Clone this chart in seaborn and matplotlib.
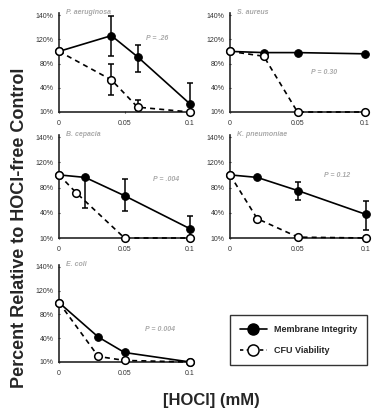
import numpy as np
import matplotlib
matplotlib.use("Agg")
import matplotlib.pyplot as plt
from matplotlib.lines import Line2D
import seaborn as sns

# species panels
species = ["P. aeruginosa", "S. aureus", "B. cepacia", "K. pneumoniae", "E. coli"]
p_labels = ["P = .26", "P = 0.30", "P = .004", "P = 0.12", "P = 0.004"]

# HOCl concentration (mM) per panel
pa_x = [0, 0.04, 0.06, 0.1]
sa_x = [0, 0.025, 0.05, 0.1]
bc_x_mem = [0, 0.02, 0.05, 0.1]
bc_x_cfu = [0, 0.013, 0.05, 0.1]
kp_x = [0, 0.02, 0.05, 0.1]
ec_x = [0, 0.03, 0.05, 0.1]

# membrane integrity (% of control) with error bar limits
pa_mem = [100, 123, 91, 20]
pa_mem_lo = [100, 93, 66, 10]
pa_mem_hi = [100, 139, 110, 48]
sa_mem = [100, 98, 98, 96]
bc_mem = [100, 96, 67, 21]
bc_mem_lo = [100, 47, 43, 10]
bc_mem_hi = [100, 98, 93, 36]
kp_mem = [100, 96, 75, 38]
kp_mem_lo = [100, 96, 60, 20]
kp_mem_hi = [100, 96, 89, 58]
ec_mem = [100, 42, 22, 10]

# CFU viability (% of control)
pa_cfu = [100, 53, 16, 10]
pa_cfu_lo = [100, 31, 13, 10]
pa_cfu_hi = [100, 79, 25, 10]
sa_cfu = [100, 92, 10, 10]
bc_cfu = [100, 72, 10, 10]
kp_cfu = [100, 33, 11, 10]
ec_cfu = [100, 17, 12, 10]

panels = [
    (pa_x, pa_mem, pa_mem_lo, pa_mem_hi, pa_x, pa_cfu, pa_cfu_lo, pa_cfu_hi),
    (sa_x, sa_mem, None, None, sa_x, sa_cfu, None, None),
    (bc_x_mem, bc_mem, bc_mem_lo, bc_mem_hi, bc_x_cfu, bc_cfu, None, None),
    (kp_x, kp_mem, kp_mem_lo, kp_mem_hi, kp_x, kp_cfu, None, None),
    (ec_x, ec_mem, None, None, ec_x, ec_cfu, None, None),
]

y_ticks = [10, 40, 80, 120, 140]
x_ticks = [0, 0.05, 0.1]

# the printed axes space their ticks evenly
y_knots = [-50, 10, 40, 80, 120, 140, 200]
y_pos = [-2, 0, 1, 2, 3, 4, 7]
x_knots = [-0.05, 0, 0.05, 0.1, 0.2]
x_pos = [-1, 0, 1, 2, 4]


def y_fwd(v):
    return np.interp(v, y_knots, y_pos)


def y_inv(p):
    return np.interp(p, y_pos, y_knots)


def x_fwd(v):
    return np.interp(v, x_knots, x_pos)


def x_inv(p):
    return np.interp(p, x_pos, x_knots)


sns.set_style("ticks")
plt.rcParams["font.family"] = ["Liberation Sans", "DejaVu Sans"]

fig = plt.figure(figsize=(3.82, 4.19), dpi=100)
W, H = 382, 419

# pixel boxes: left, right, top, bottom
boxes = [
    (59, 190, 12.6, 112),
    (230, 365, 12.6, 112),
    (59, 190, 134.5, 238),
    (230, 366, 134.5, 238),
    (59, 190, 264.6, 362),
]
p_xy = [(0.75, 0.74), (0.70, 0.40), (0.82, 0.57), (0.79, 0.60), (0.77, 0.33)]

for i, (l, r, t, b) in enumerate(boxes):
    ax = fig.add_axes([l / W, 1 - b / H, (r - l) / W, (b - t) / H])
    ax.set_xscale("function", functions=(x_fwd, x_inv))
    ax.set_yscale("function", functions=(y_fwd, y_inv))
    xm, ym, lo_m, hi_m, xc, yc, lo_c, hi_c = panels[i]

    if lo_m is not None:
        ym_a = np.array(ym)
        ax.errorbar(xm, ym, yerr=[ym_a - np.array(lo_m), np.array(hi_m) - ym_a],
                    fmt="none", ecolor="black", elinewidth=1.1, capsize=2,
                    capthick=1.1, clip_on=False, zorder=2)
    if lo_c is not None:
        yc_a = np.array(yc)
        ax.errorbar(xc, yc, yerr=[yc_a - np.array(lo_c), np.array(hi_c) - yc_a],
                    fmt="none", ecolor="black", elinewidth=1.1, capsize=2,
                    capthick=1.1, clip_on=False, zorder=2)

    sns.lineplot(x=xm, y=ym, ax=ax, color="black", lw=1.2, marker="o",
                 markersize=5.5, markerfacecolor="black", markeredgecolor="black",
                 clip_on=False, zorder=3)
    sns.lineplot(x=xc, y=yc, ax=ax, color="black", lw=1.2, linestyle=(0, (3, 2.5)),
                 marker="o", markersize=5.5, markerfacecolor="white",
                 markeredgecolor="black", markeredgewidth=1.1,
                 clip_on=False, zorder=4)

    ax.set_xlim(0, 0.1)
    ax.set_ylim(10, 142)
    ax.set_xticks(x_ticks)
    ax.set_xticklabels(["0", "0.05", "0.1"])
    ax.set_yticks(y_ticks)
    ax.set_yticklabels([f"{v}%" for v in y_ticks])
    ax.minorticks_off()
    ax.tick_params(axis="both", labelsize=5, colors="#333333", length=2,
                   width=0.8, direction="inout", pad=5)
    ax.tick_params(axis="y", pad=3)
    for s in ["top", "right"]:
        ax.spines[s].set_visible(False)
    for s in ["left", "bottom"]:
        ax.spines[s].set_linewidth(1.2)
    ax.set_xlabel("")
    ax.set_ylabel("")

    ax.text(0.05, 1.0, species[i], transform=ax.transAxes, fontsize=5,
            style="italic", fontweight="bold", color="#aaaaaa", ha="left",
            va="center")
    ax.text(p_xy[i][0], p_xy[i][1], p_labels[i], transform=ax.transAxes,
            fontsize=5, style="italic", fontweight="bold", color="#aaaaaa",
            ha="center", va="center")

fig.text(20 / W, 1 - 228 / H, "Percent Relative to HOCl-free Control",
         rotation=90, ha="center", va="center", fontsize=13, fontweight="bold")
fig.text(211 / W, 1 - 400 / H, "[HOCl] (mM)", ha="center", va="center",
         fontsize=12, fontweight="bold")

handles = [
    Line2D([], [], color="black", lw=1.2, marker="o", markersize=8,
           markerfacecolor="black", markeredgecolor="black"),
    Line2D([], [], color="black", lw=1.2, linestyle=(0, (2, 2)), marker="o",
           markersize=8, markerfacecolor="white", markeredgecolor="black",
           markeredgewidth=1.1),
]
leg = fig.legend(handles, ["Membrane Integrity", "CFU Viability"],
                 loc="center", bbox_to_anchor=(298.5 / W, 1 - 340 / H),
                 prop={"size": 6.5, "weight": "bold"}, frameon=True,
                 fancybox=False, edgecolor="black", handlelength=3,
                 borderpad=1.1, labelspacing=1.3, handletextpad=0.8)
leg.get_frame().set_linewidth(1.0)

fig.savefig("out.png", dpi=100)
